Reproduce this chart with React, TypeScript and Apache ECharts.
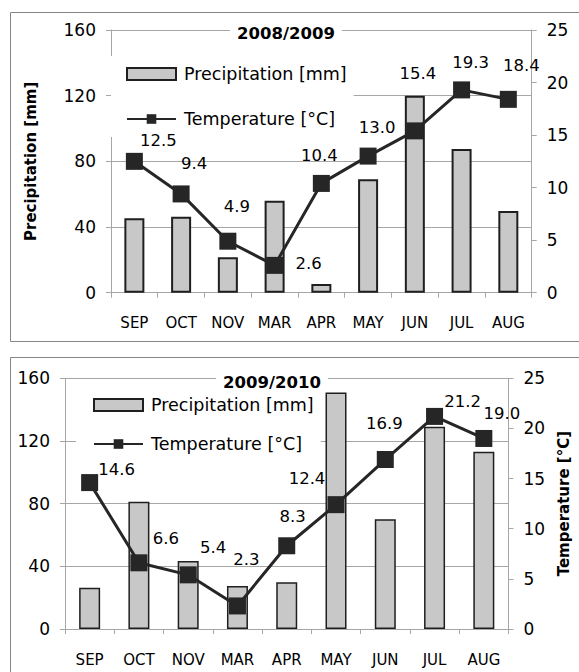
import React, { useEffect, useRef } from 'react';
import * as echarts from 'echarts';

const months = ['SEP', 'OCT', 'NOV', 'MAR', 'APR', 'MAY', 'JUN', 'JUL', 'AUG'];
const precip0809 = [45.3, 46.3, 21.6, 56.0, 5.3, 69.1, 120.0, 87.5, 49.8];
const temp0809 = [12.5, 9.4, 4.9, 2.6, 10.4, 13.0, 15.4, 19.3, 18.4];
const precip0910 = [26.4, 81.2, 43.4, 27.4, 29.8, 151.0, 70.0, 129.1, 113.2];
const temp0910 = [14.6, 6.6, 5.4, 2.3, 8.3, 12.4, 16.9, 21.2, 19.0];
const precipAxis = { min: 0, max: 160, interval: 40 };
const tempAxis = { min: 0, max: 25, interval: 5 };
const titles = ['2008/2009', '2009/2010'];
const precipName = 'Precipitation [mm]';
const tempName = 'Temperature [°C]';

// manual label placement (Excel-style), offsets from marker centre
const labelOffsets0809 = [[24, -21], [13, -30], [9, -35], [34, -2], [-2, -28], [9, -29], [3, -57], [9, -27], [13, -34]];
const labelOffsets0910 = [[27, -13], [27, -24], [25, -27], [9, -46], [6, -29], [-29, -26], [-1, -36], [28, -15], [18, -25]];

const FONT = 'DejaVu Sans';
const GRID_GRAY = '#a6a6a6';
const DARK = '#262626';

function yAxes(gridIndex: number, showLeftName: boolean, showRightName: boolean) {
  const common = {
    gridIndex,
    type: 'value',
    z: 0,
    axisLine: { show: true, lineStyle: { color: GRID_GRAY, width: 1 } },
    axisTick: { show: true, length: 5, lineStyle: { color: GRID_GRAY } },
    axisLabel: { color: '#000', fontSize: 17, fontFamily: FONT, margin: 15 },
  };
  return [
    {
      ...common,
      ...precipAxis,
      position: 'left',
      splitLine: { show: true, lineStyle: { color: GRID_GRAY, width: 1 } },
      name: showLeftName ? precipName : '',
      nameLocation: 'middle',
      nameRotate: 90,
      nameGap: 73,
      nameTextStyle: { fontWeight: 'bold', fontSize: 15, color: '#000', fontFamily: FONT },
    },
    {
      ...common,
      ...tempAxis,
      position: 'right',
      splitLine: { show: false },
      name: showRightName ? tempName : '',
      nameLocation: 'middle',
      nameRotate: 90,
      nameGap: 42,
      nameTextStyle: { fontWeight: 'bold', fontSize: 15, color: '#000', fontFamily: FONT },
    },
  ];
}

function xAxis(gridIndex: number) {
  return {
    gridIndex,
    type: 'category',
    data: months,
    boundaryGap: true,
    z: 0,
    axisLine: { show: true, lineStyle: { color: GRID_GRAY, width: 1 } },
    axisTick: { show: true, length: 5, interval: 0, lineStyle: { color: GRID_GRAY } },
    axisLabel: { color: '#000', fontSize: 15, fontFamily: FONT, margin: 23, interval: 0 },
  };
}

function series(idx: number, precip: number[], temp: number[], offsets: number[][], barW: number, borderW: number) {
  return [
    {
      name: precipName,
      type: 'bar',
      xAxisIndex: idx,
      yAxisIndex: idx * 2,
      data: precip,
      barWidth: barW,
      itemStyle: { color: '#c8c8c8', borderColor: '#1f1f1f', borderWidth: borderW },
      z: 2,
    },
    {
      name: tempName,
      type: 'line',
      xAxisIndex: idx,
      yAxisIndex: idx * 2 + 1,
      data: temp.map((v, i) => ({
        value: v,
        label: { offset: offsets[i] },
      })),
      symbol: 'rect',
      symbolSize: 17,
      lineStyle: { color: DARK, width: 3 },
      itemStyle: { color: DARK },
      label: {
        show: true,
        position: 'inside',
        formatter: (p: any) => Number(p.value).toFixed(1),
        color: '#000',
        fontSize: 16.5,
        fontFamily: FONT,
      },
      z: 3,
    },
  ];
}

export default function App() {
  const ref = useRef<HTMLDivElement>(null);
  useEffect(() => {
    if (!ref.current) return;
    const chart = echarts.init(ref.current, null, { renderer: 'svg' });
    const legendCommon = {
      orient: 'vertical',
      backgroundColor: '#fff',
      itemWidth: 49,
      itemHeight: 12,
      z: 1,
      textStyle: { fontSize: 17.5, fontFamily: FONT, color: '#000', lineHeight: 20, padding: [0, 0, 0, 3] },
      data: [{ name: precipName, icon: 'rect' }, { name: tempName }],
      selectedMode: false,
    };
    const titleCommon = {
      textAlign: 'center',
      padding: [2, 7],
      backgroundColor: '#fff',
      z: 1,
      textStyle: { fontSize: 16.5, fontWeight: 'bold', color: '#000', fontFamily: FONT, lineHeight: 20 },
    };
    chart.setOption({
      animation: false,
      textStyle: { fontFamily: FONT },
      title: [
        { ...titleCommon, text: titles[0], left: 279, top: 21 },
        { ...titleCommon, text: titles[1], left: 265, top: 370 },
      ],
      legend: [
        { ...legendCommon, left: 111, top: 56, padding: [8, 7, 8, 15], itemGap: 25 },
        { ...legendCommon, left: 76, top: 392, padding: [3, 7, 5, 17], itemGap: 19 },
      ],
      grid: [
        { left: 111, top: 30, width: 420.7, height: 262.7 },
        { left: 65, top: 378.3, width: 454.3, height: 250.7 },
      ],
      xAxis: [xAxis(0), xAxis(1)],
      yAxis: [...yAxes(0, true, false), ...yAxes(1, false, true)],
      series: [
        ...series(0, precip0809, temp0809, labelOffsets0809, 20, 2),
        ...series(1, precip0910, temp0910, labelOffsets0910, 21, 1.5),
      ],
      graphic: [
        {
          type: 'rect',
          shape: { x: 10.5, y: 12.5, width: 620, height: 329 },
          style: { fill: 'none', stroke: '#858585', lineWidth: 1 },
          silent: true,
        },
        {
          type: 'rect',
          shape: { x: 10.5, y: 357.5, width: 620, height: 360 },
          style: { fill: 'none', stroke: '#858585', lineWidth: 1 },
          silent: true,
        },
      ],
    });
    return () => chart.dispose();
  }, []);
  return <div ref={ref} style={{ position: 'absolute', left: 0, top: 0, width: 579, height: 672 }} />;
}
